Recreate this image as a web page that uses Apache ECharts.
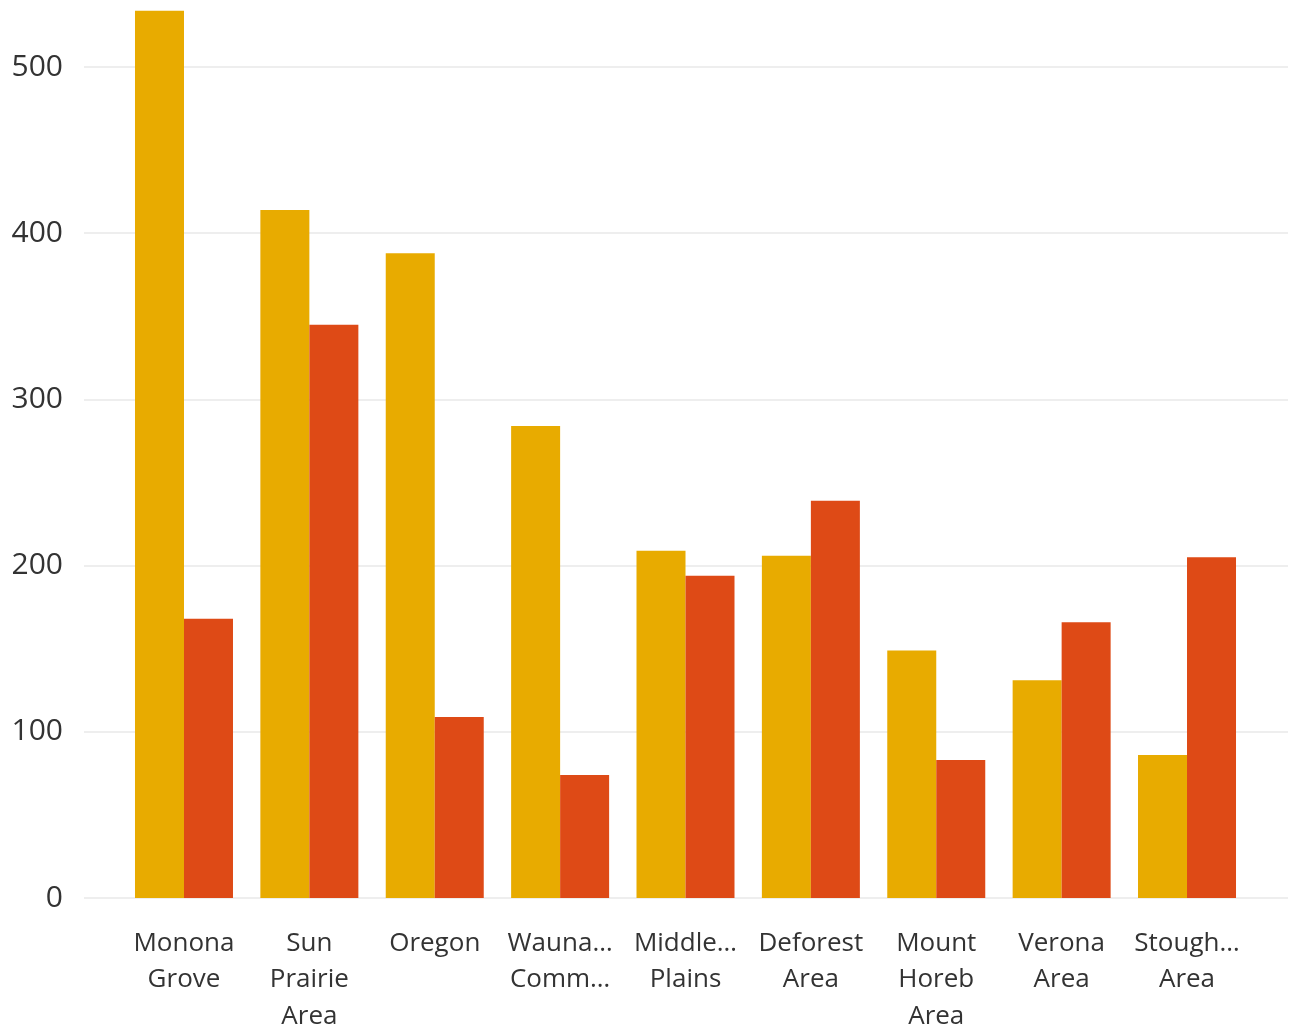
<!DOCTYPE html>
<html>
<head>
<meta charset="utf-8">
<script src="https://cdn.jsdelivr.net/npm/echarts@6/dist/echarts.min.js"></script>
<style>html,body{margin:0;padding:0;background:#fff;}#c{width:1292px;height:1030px;}</style>
</head>
<body>
<div id="c"></div>
<script>
const categories = ['Monona\nGrove', 'Sun\nPrairie\nArea', 'Oregon', 'Wauna…\nComm…', 'Middle…\nPlains', 'Deforest\nArea', 'Mount\nHoreb\nArea', 'Verona\nArea', 'Stough…\nArea'];
const seriesA = [534, 414, 388, 284, 209, 206, 149, 131, 86];
const seriesB = [168, 345, 109, 74, 194, 239, 83, 166, 205];
const yTicks = [0, 100, 200, 300, 400, 500];

const FONT = '"Open Sans", "Noto Sans", sans-serif';
const chart = echarts.init(document.getElementById('c'), null, {renderer: 'canvas'});
chart.setOption({
  animation: false,
  backgroundColor: '#ffffff',
  grid: [
    {left: 84, right: 4, top: 67, bottom: 132, containLabel: false, outerBoundsMode: 'none'},
    {left: 121.3, right: 42.3, top: 9, bottom: 132, containLabel: false, outerBoundsMode: 'none'}
  ],
  xAxis: [
    {gridIndex: 0, type: 'value', show: false, min: 0, max: 1},
    {gridIndex: 1, type: 'category', data: categories,
     axisLine: {show: false}, axisTick: {show: false},
     axisLabel: {interval: 0, margin: 27, fontSize: 26, lineHeight: 36.5, color: '#333', fontFamily: FONT}}
  ],
  yAxis: [
    {gridIndex: 0, type: 'value', min: yTicks[0], max: yTicks[yTicks.length - 1], interval: 100,
     axisLine: {show: false}, axisTick: {show: false},
     axisLabel: {margin: 21, fontSize: 30, color: '#333', fontFamily: FONT},
     splitLine: {show: true, lineStyle: {color: '#e8e8e8', width: 1.5}}},
    {gridIndex: 1, type: 'value', min: 0, max: 535, show: false, splitLine: {show: false}}
  ],
  series: [
    {name: 'A', type: 'bar', xAxisIndex: 1, yAxisIndex: 1, data: seriesA,
     barWidth: 49, barGap: '0%', itemStyle: {color: '#E8AB00'}},
    {name: 'B', type: 'bar', xAxisIndex: 1, yAxisIndex: 1, data: seriesB,
     barWidth: 49, barGap: '0%', itemStyle: {color: '#DE4A16'}}
  ]
});
</script>
</body>
</html>
